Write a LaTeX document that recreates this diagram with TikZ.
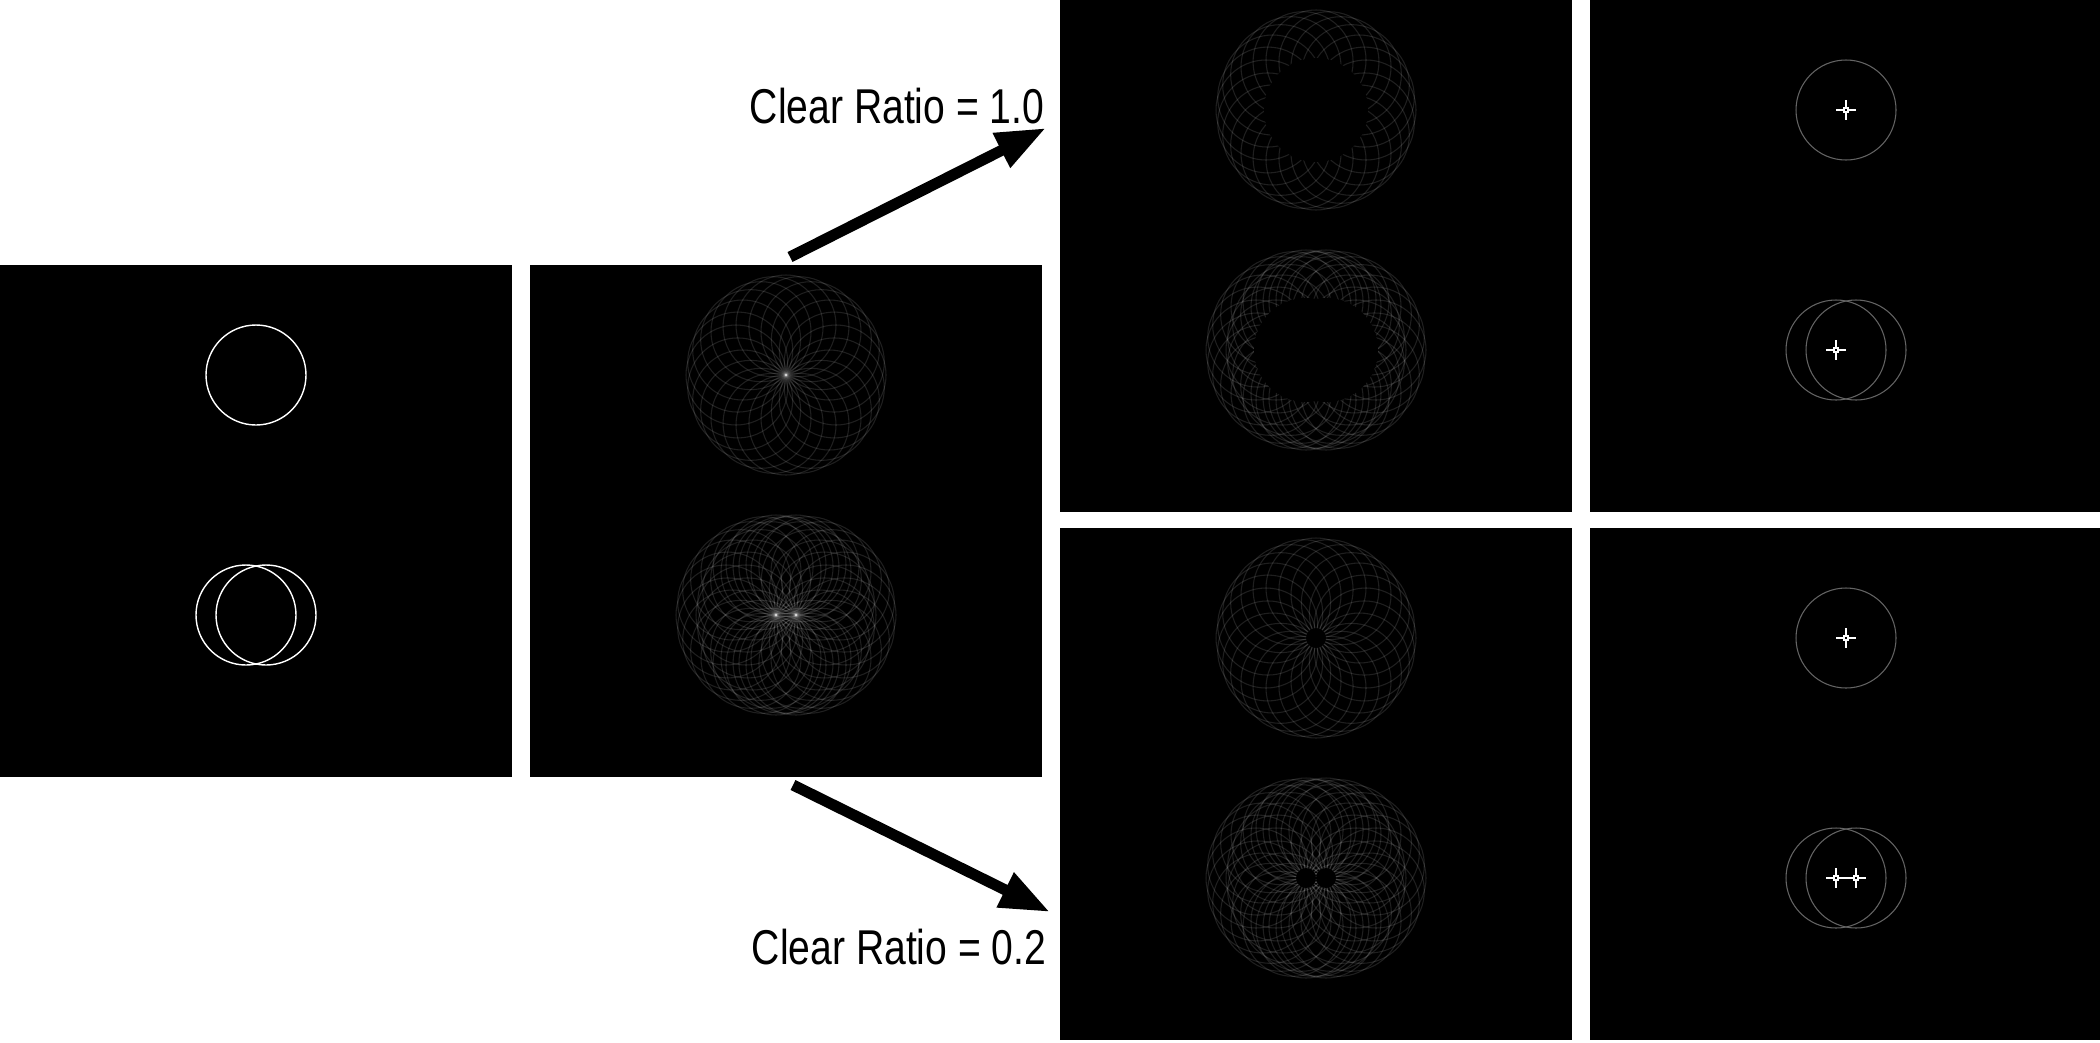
\documentclass[tikz,border=0pt]{standalone}
\usepackage{fontspec}
\newfontfamily\ratiofont[FakeStretch=0.8]{Liberation Sans}
\usepackage{tikz}
\usetikzlibrary{arrows.meta, positioning}
\definecolor{foundgray}{RGB}{100,100,100}

\begin{document}
\begin{tikzpicture}[
		x=0.01cm, y=-0.01cm,
		panel/.style={rectangle, fill=black, inner sep=0pt, outer sep=0pt, minimum width=5.12cm, minimum height=5.12cm, anchor=north west},
		ring/.style={draw=white, line width=0.4pt},
		vote/.style={draw=white, draw opacity=0.12, line width=0.3pt},
		hole/.style={fill=black},
		found/.style={draw=foundgray, line width=0.3pt},
		cross/.style={draw=white, line width=0.3pt},
		ratio/.style={font=\ratiofont\fontsize{13.9}{16}\selectfont, inner sep=0pt, anchor=base east},
		flow/.style={-{Triangle[length=0.5cm, width=0.36cm]}, line width=0.11cm}
		]
		\useasboundingbox (0,0) rectangle (2100,1042);
		
		% Les panneaux
		\node[panel] (inp) at (0,265) {};
		\node[panel] (acc) at (530,265) {};
		\node[panel] (accA) at (1060,0) {};
		\node[panel] (detA) at (1590,0) {};
		\node[panel] (accB) at (1060,528) {};
		\node[panel] (detB) at (1590,528) {};
		
		% Les cercles d'entree
		\begin{scope}[shift={(inp.north west)}]
			\draw[ring] (256,110) circle[radius=50];
			\draw[ring] (246,350) circle[radius=50];
			\draw[ring] (266,350) circle[radius=50];
		\end{scope}
		
		% Accumulateurs
		\foreach \p in {acc, accA, accB} {
			\begin{scope}[shift={(\p.north west)}]
				\foreach \a in {0,15,...,345} {
					\draw[vote] (256,110) ++(\a:50) circle[radius=50];
					\draw[vote] (246,350) ++(\a:50) circle[radius=50];
					\draw[vote] (266,350) ++(\a:50) circle[radius=50];
				}
			\end{scope}
		}
		
		% Zones effacees
		\begin{scope}[shift={(accA.north west)}]
			\fill[hole] (256,110) circle[radius=52];
			\fill[hole] (246,350) circle[radius=52] (266,350) circle[radius=52];
		\end{scope}
		\begin{scope}[shift={(accB.north west)}]
			\fill[hole] (256,110) circle[radius=10];
			\fill[hole] (246,350) circle[radius=10] (266,350) circle[radius=10];
		\end{scope}
		
		% Les cercles detectes
		\foreach \p in {detA, detB} {
			\begin{scope}[shift={(\p.north west)}]
				\draw[found] (256,110) circle[radius=50];
				\draw[found] (246,350) circle[radius=50];
				\draw[found] (266,350) circle[radius=50];
			\end{scope}
		}
		\begin{scope}[shift={(detA.north west)}]
			\foreach \cx/\cy in {256/110, 246/350} {
				\draw[cross] (\cx-10,\cy) -- (\cx+10,\cy) (\cx,\cy-10) -- (\cx,\cy+10);
				\draw[cross, fill=black] (\cx-2,\cy-2) rectangle (\cx+2,\cy+2);
			}
		\end{scope}
		\begin{scope}[shift={(detB.north west)}]
			\foreach \cx/\cy in {256/110, 246/350, 266/350} {
				\draw[cross] (\cx-10,\cy) -- (\cx+10,\cy) (\cx,\cy-10) -- (\cx,\cy+10);
				\draw[cross, fill=black] (\cx-2,\cy-2) rectangle (\cx+2,\cy+2);
			}
		\end{scope}
		
		% Les fleches
		\coordinate (upTail) at (790,257);
		\coordinate (upTip) at (1046,128);
		\coordinate (downTail) at (793,785);
		\coordinate (downTip) at (1050,912);
		\draw[flow] (upTail) -- (upTip);
		\draw[flow] (downTail) -- (downTip);
		
		\node[ratio] (ratioA) at (1045,123) {Clear Ratio = 1.0};
		\node[ratio] (ratioB) at (1047,964) {Clear Ratio = 0.2};
	\end{tikzpicture}
\end{document}
